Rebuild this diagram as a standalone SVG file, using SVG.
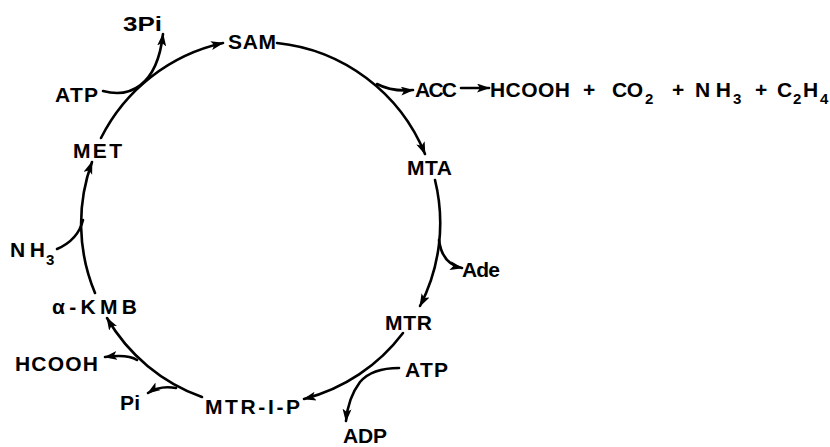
<svg xmlns="http://www.w3.org/2000/svg" width="830" height="447" viewBox="0 0 830 447">
<style>
.lbl{font-family:"Liberation Sans",Arial,sans-serif;font-weight:bold;font-size:21px;fill:#000}
.sub{font-family:"Liberation Sans",Arial,sans-serif;font-weight:bold;font-size:15px;fill:#000}
.ln{fill:none;stroke:#000;stroke-width:2.6;stroke-linecap:round}
.ar{marker-end:url(#ah)}
</style>
<defs>
<marker id="ah" markerUnits="userSpaceOnUse" markerWidth="14" markerHeight="10" refX="12" refY="4.5" orient="auto" viewBox="0 0 14 10">
<path d="M0,0 L13,4.5 L0,9 L3,4.5 z" fill="#000"/>
</marker>
</defs>
<rect width="830" height="447" fill="#fff"/>
<g id="connectors">
<path class="ln ar" d="M101,138 A180,180 0 0,1 223,43"/>
<path class="ln ar" d="M277,43 A180,180 0 0,1 425,154"/>
<path class="ln ar" d="M435,180 A180,180 0 0,1 420,306"/>
<path class="ln ar" d="M403,333 A180,180 0 0,1 304,399"/>
<path class="ln ar" d="M202,397 A180,180 0 0,1 107,318"/>
<path class="ln ar" d="M95,293 A180,180 0 0,1 92,162"/>
<path class="ln ar" d="M103,91 C128,98 157,88 163,34"/>
<path class="ln ar" d="M377,84 Q392,92 413,90"/>
<path class="ln ar" d="M461,88 L489,88"/>
<path class="ln ar" d="M439,240 Q442,264 462,268"/>
<path class="ln ar" d="M399,368 Q372,368 360,382 Q348,398 346,421"/>
<path class="ln ar" d="M137,360 Q128,354 105,357"/>
<path class="ln ar" d="M176,388 Q160,385 148,393"/>
<path class="ln" d="M57,249 Q78,240 83,220"/>
</g>
<g id="n-3Pi"><text class="lbl" x="123" y="31" textLength="39" lengthAdjust="spacingAndGlyphs">3Pi</text></g>
<g id="n-SAM"><text class="lbl" x="228" y="49" textLength="48">SAM</text></g>
<g id="n-ATP1"><text class="lbl" x="55" y="102" textLength="43">ATP</text></g>
<g id="n-ACC"><text class="lbl" x="415" y="97" textLength="42">ACC</text></g>
<g id="n-products">
<text class="lbl" x="490" y="97" textLength="80">HCOOH</text>
<text class="lbl" x="583" y="97">+</text>
<text class="lbl" x="612" y="97" textLength="31">CO</text>
<text class="sub" x="645" y="104">2</text>
<text class="lbl" x="672" y="97">+</text>
<text class="lbl" x="695" y="97" textLength="36">NH</text>
<text class="sub" x="733" y="104">3</text>
<text class="lbl" x="755" y="97">+</text>
<text class="lbl" x="777" y="97">C</text>
<text class="sub" x="793" y="104">2</text>
<text class="lbl" x="803" y="97">H</text>
<text class="sub" x="820" y="104">4</text>
</g>
<g id="n-MTA"><text class="lbl" x="407" y="175" textLength="45">MTA</text></g>
<g id="n-Ade"><text class="lbl" x="462" y="277" textLength="38">Ade</text></g>
<g id="n-MTR"><text class="lbl" x="385" y="330" textLength="47">MTR</text></g>
<g id="n-ATP2"><text class="lbl" x="405" y="377" textLength="43">ATP</text></g>
<g id="n-ADP"><text class="lbl" x="343" y="443" textLength="44">ADP</text></g>
<g id="n-MTR-I-P"><text class="lbl" x="205" y="414" textLength="95">MTR-I-P</text></g>
<g id="n-Pi"><text class="lbl" x="120" y="410" textLength="20">Pi</text></g>
<g id="n-HCOOH"><text class="lbl" x="15" y="371" textLength="83">HCOOH</text></g>
<g id="n-aKMB"><text class="lbl" x="52" y="314" textLength="85">α-KMB</text></g>
<g id="n-NH3"><text class="lbl" x="10" y="257" textLength="35">NH</text><text class="sub" x="46" y="265">3</text></g>
<g id="n-MET"><text class="lbl" x="73" y="158" textLength="49">MET</text></g>
</svg>
